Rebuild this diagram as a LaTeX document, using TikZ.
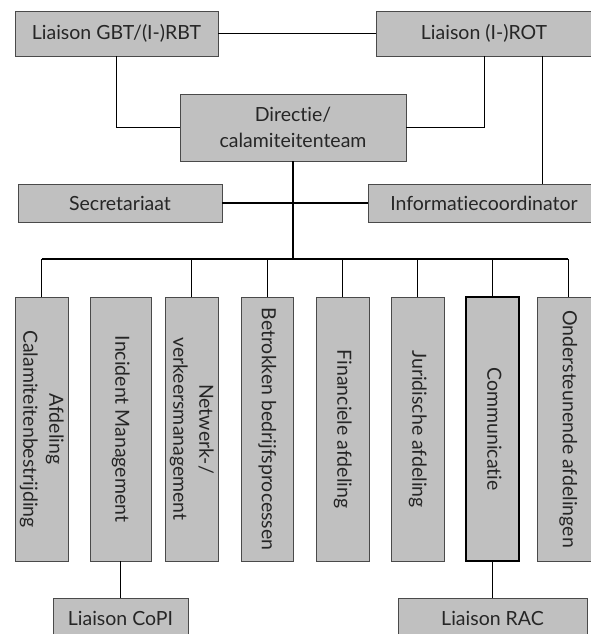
\documentclass[tikz,border=0pt]{standalone}
\usepackage{fontspec}
\setmainfont{Lato}[Ligatures={NoCommon}]
\definecolor{boxfill}{HTML}{C0C0C0}
\definecolor{boxline}{HTML}{4A4A4A}
\tikzset{
	box/.style={draw=boxline, fill=boxfill, line width=0.8pt, text=black!85, font=\fontsize{19.5}{26}\selectfont, inner sep=0pt, align=center},
	colbox/.style={box, minimum height=264pt},
	link/.style={draw=black, line width=0.9pt},
	trunk/.style={draw=black, line width=1.8pt}
}
\newcommand{\coltext}[1]{\rotatebox{-90}{\begin{tabular}{@{}c@{}}#1\end{tabular}}}
\begin{document}
\begin{tikzpicture}[x=1pt, y=-1pt]
		\clip (0, 0) rectangle (591, 634);

		\node [box, minimum width=203pt, minimum height=45pt]	(gbt) at (116.5, 33.5) {Liaison GBT/(I-)RBT};
		\node [box, minimum width=216pt, minimum height=45pt]	(rot) at (484, 33.5) {Liaison (I-)ROT};
		\node [box, minimum width=226pt, minimum height=67pt]	(dir) at (293, 127.5) {Directie/\\calamiteitenteam};
		\node [box, minimum width=204pt, minimum height=38pt]	(secr) at (120, 203) {Secretariaat};
		\node [box, minimum width=232pt, minimum height=38pt]	(info) at (484, 203) {Informatiecoordinator};

		\node [colbox, minimum width=53pt]	(afd) at (41.5, 429) {\coltext{Afdeling\\Calamiteitenbestrijding}};
		\node [colbox, minimum width=61pt]	(incm) at (120.5, 429) {\coltext{Incident Management}};
		\node [colbox, minimum width=53pt]	(netw) at (191.5, 429) {\coltext{Netwerk-/\\verkeersmanagement}};
		\node [colbox, minimum width=52pt]	(betr) at (267, 429) {\coltext{Betrokken bedrijfsprocessen}};
		\node [colbox, minimum width=53pt]	(fin) at (342.5, 429) {\coltext{Financiele afdeling}};
		\node [colbox, minimum width=53pt]	(jur) at (417.5, 429) {\coltext{Juridische afdeling}};
		\node [colbox, minimum width=53pt, draw=black, line width=1.6pt]	(comm) at (492.5, 429) {\coltext{Communicatie}};
		\node [colbox, minimum width=62pt]	(ond) at (568, 429) {\coltext{Ondersteunende afdelingen}};

		\node [box, minimum width=135pt, minimum height=40pt]	(copi) at (120.5, 618) {Liaison CoPI};
		\node [box, minimum width=189pt, minimum height=40pt]	(rac) at (492.5, 618) {Liaison RAC};

		\coordinate (bus) at (293, 259);
		\coordinate (rotr) at ([xshift=58pt]rot.south);

		\draw [link]	(gbt) to (rot);
		\draw [link]	(gbt.south) |- (dir.west);
		\draw [link]	(rot.south) |- (dir.east);
		\draw [link]	(rotr) to (rotr |- info.north);
		\draw [trunk]	(secr) to (info);
		\draw [trunk]	(dir.south) to (bus);
		\draw [link, line width=1.2pt]	(afd.north |- bus) to (ond.north |- bus);

		\foreach \c in {afd, netw, betr, fin, jur, comm, ond}
			\draw [link]	(\c.north |- bus) to (\c.north);

		\draw [link]	(incm.south) to (copi.north);
		\draw [link]	(comm.south) to (rac.north);
\end{tikzpicture}
\end{document}
